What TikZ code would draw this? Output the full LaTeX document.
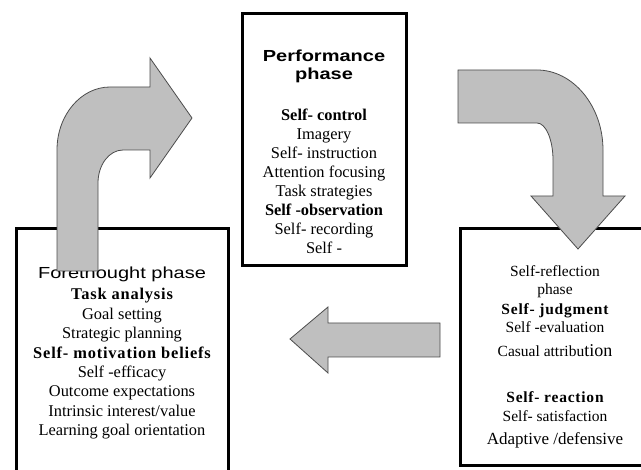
\documentclass[tikz,border=0pt]{standalone}
\usepackage{fontspec}
\setmainfont{Liberation Serif}
\newfontfamily\headfont[FakeStretch=1.25]{Liberation Sans}
\newfontfamily\boldserif[LetterSpace=5]{Liberation Serif}
\newcommand\phasepart[1]{{\boldserif\bfseries #1}}
\usepackage{tikz}

\tikzset{
    phasebox/.style={draw=black, line width=3pt, rectangle, inner sep=0pt},
    blockarrow/.style={fill=black!25, draw=black!70, line width=0.8pt, line join=miter},
    headtext/.style={font=\headfont\fontsize{16}{19}\selectfont, anchor=base, inner sep=0pt},
    itemtext/.style={font=\fontsize{16.4}{19}\selectfont, anchor=base, inner sep=0pt},
    smalltext/.style={font=\fontsize{15.5}{18}\selectfont, anchor=base, inner sep=0pt}
}

\begin{document}
\begin{tikzpicture}[x=1pt, y=-1pt]
    \useasboundingbox (0,0) rectangle (641,470);
    \clip (0,0) rectangle (641,470);

    % Draw the three phase boxes
    \node[phasebox, minimum width=164pt, minimum height=252pt] (perf) at (324,140) {};
    \node[phasebox, minimum width=212pt, minimum height=272pt] (fore) at (122,365) {};
    \node[phasebox, minimum width=192pt, minimum height=237pt] (refl) at (556,347.5) {};

    % Performance phase text
    \node[headtext] (perf-title) at (324,62) {\bfseries Performance};
    \node[headtext] (perf-phase) at (324,80) {\bfseries phase};
    \foreach \line [count=\i] in {{\bfseries Self- control}, Imagery, Self- instruction, Attention focusing, Task strategies, {\bfseries Self -observation}, Self- recording, Self -} {
        \node[itemtext] (perf-\i) at (324,102+19*\i) {\line};
    }

    % Forethought phase text
    \node[headtext] (fore-title) at (122,279) {Forethought phase};
    \foreach \line [count=\i] in {{\phasepart{Task analysis}}, Goal setting, Strategic planning, {\phasepart{Self- motivation beliefs}}, Self -efficacy, Outcome expectations, Intrinsic interest/value, Learning goal orientation} {
        \node[itemtext] (fore-\i) at (122,280.6+19.4*\i) {\line};
    }

    % Self-reflection phase text
    \foreach \line/\ypos [count=\i] in {Self-reflection/277, phase/295, {\phasepart{Self- judgment}}/315, Self -evaluation/333, {Casual attribu{\fontsize{18}{22}\selectfont tion}}/357, {\phasepart{Self- reaction}}/403, Self- satisfaction/422, {\fontsize{17}{20}\selectfont Adaptive /defensive}/445} {
        \node[smalltext] (refl-\i) at (555,\ypos) {\line};
    }

    % Draw the bent arrow from forethought up to performance
    \draw[blockarrow] (57,271) -- (57,150) .. controls (57,115) and (81,87) .. (110,87) -- (150,87) -- (150,58) -- (192,118) -- (150,178) -- (150,150) -- (123,150) .. controls (109,150) and (98,165) .. (98,183) -- (98,271) -- cycle;

    % Draw the bent arrow from performance down to self-reflection
    \draw[blockarrow] (458,70) -- (537,70) .. controls (573,70) and (603,106) .. (603,150) -- (603,196) -- (625,196) -- (578,249) -- (531,196) -- (553,196) -- (553,160) .. controls (553,140) and (546,123) .. (537,123) -- (458,123) -- cycle;

    % Draw the straight arrow back to forethought
    \draw[blockarrow] (290,339) -- (328,307) -- (328,323) -- (440,323) -- (440,357) -- (328,357) -- (328,373) -- cycle;
\end{tikzpicture}
\end{document}
